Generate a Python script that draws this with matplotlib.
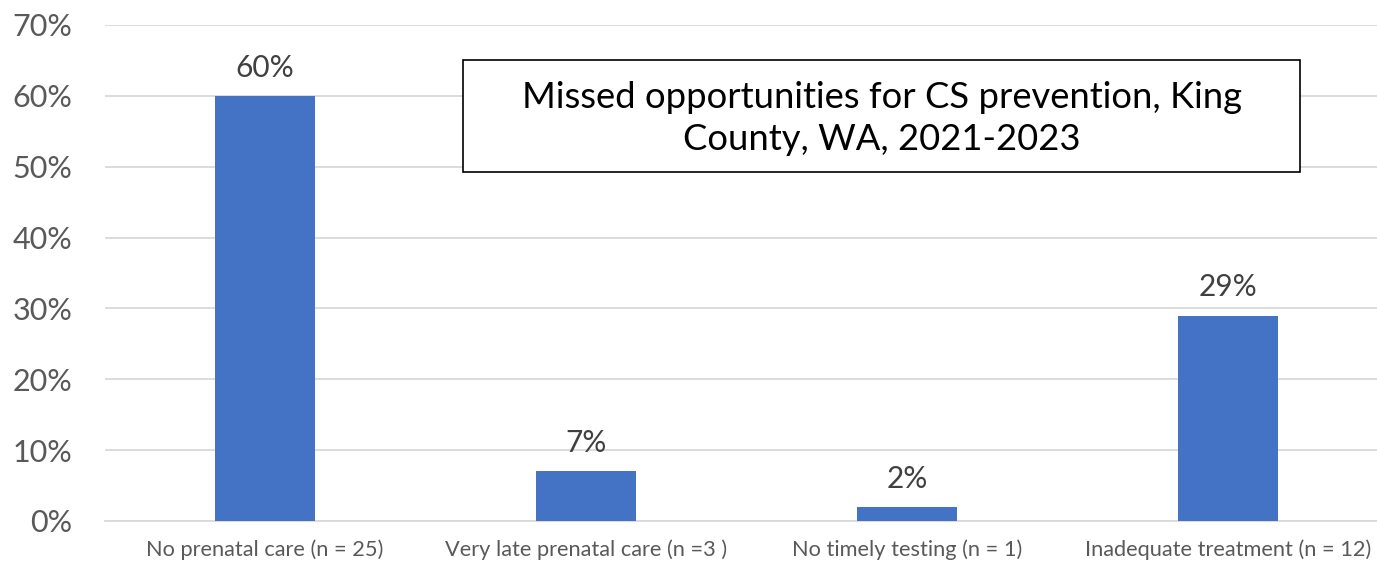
import matplotlib.pyplot as plt
from matplotlib.patches import Rectangle
from matplotlib.ticker import PercentFormatter

plt.rcParams['font.family'] = ['Lato', 'DejaVu Sans']

categories = ['No prenatal care (n = 25)', 'Very late prenatal care (n =3 )',
              'No timely testing (n = 1)', 'Inadequate treatment (n = 12)']
percents = [60, 7, 2, 29]
y_ticks = [0, 10, 20, 30, 40, 50, 60, 70]
title_lines = ['Missed opportunities for CS prevention, King',
               'County, WA, 2021-2023']

BAR_COLOR = '#4472C4'
GRID_COLOR = '#D9D9D9'
TEXT_GRAY = '#595959'
W, H = 1377, 564


def main() -> None:
    fig = plt.figure(figsize=(W / 100, H / 100), dpi=100)
    # plot area runs slightly past the right edge of the figure
    ax = fig.add_axes([104.5 / W, 1 - 521 / H, 1284 / W, 496 / H])

    x = range(len(categories))
    ax.bar(x, percents, width=0.31, color=BAR_COLOR, zorder=3)
    for xi, val in zip(x, percents):
        ax.text(xi, val + 2.0, f'{val}%', ha='center', va='bottom',
                fontsize=21.5, color='#404040')

    ax.set_xlim(-0.5, len(categories) - 0.5)
    ax.set_ylim(0, 70)
    ax.set_yticks(y_ticks)
    ax.yaxis.set_major_formatter(PercentFormatter(decimals=0))
    ax.set_xticks(list(x))
    ax.set_xticklabels(categories)

    ax.grid(axis='y', color=GRID_COLOR, linewidth=1.3, zorder=0)
    for side in ['top', 'right', 'left']:
        ax.spines[side].set_visible(False)
    ax.spines['bottom'].set_color(GRID_COLOR)
    ax.spines['bottom'].set_linewidth(1.3)
    ax.tick_params(axis='both', length=0)
    ax.tick_params(axis='y', labelsize=22, labelcolor=TEXT_GRAY, pad=23)
    ax.tick_params(axis='x', labelsize=15.7, labelcolor=TEXT_GRAY, pad=13)

    # title box
    fig.add_artist(Rectangle((463 / W, 1 - 172 / H), 837 / W, 112 / H,
                             transform=fig.transFigure, facecolor='white',
                             edgecolor='black', linewidth=1.2, zorder=5))
    for i, line in enumerate(title_lines):
        fig.text(882 / W, 1 - (97 + 43 * i) / H, line, ha='center',
                 va='center', fontsize=26.2, color='black', zorder=6)

    fig.savefig('out.png', dpi=100)


if __name__ == '__main__':
    main()
